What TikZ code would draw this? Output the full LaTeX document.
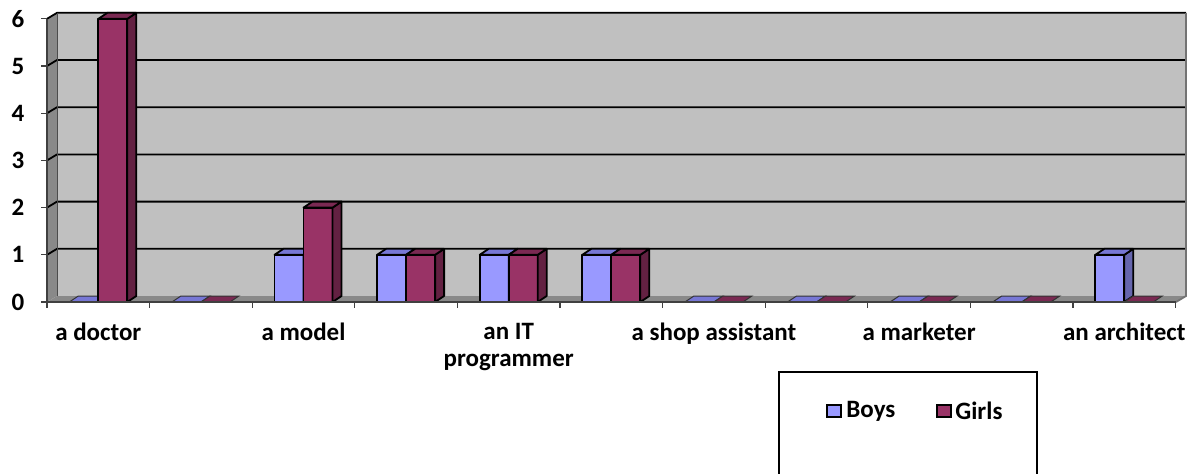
\documentclass[tikz,border=0pt]{standalone}
\usepackage{fontspec}
\setmainfont{Carlito}

\definecolor{boys}{HTML}{9999FF}
\definecolor{boystop}{HTML}{7777D5}
\definecolor{boysside}{HTML}{6666AE}
\definecolor{girls}{HTML}{993366}
\definecolor{girlstop}{HTML}{7A2952}
\definecolor{girlsside}{HTML}{632142}
\definecolor{wall}{HTML}{C0C0C0}
\definecolor{darkwall}{HTML}{898989}

\tikzset{
  lbl/.style={font=\bfseries\fontsize{12.5}{13.5}\selectfont, inner sep=0pt},
  barline/.style={draw=black, line width=0.9pt, line join=round},
  flatline/.style={draw=black!80, line width=0.5pt},
  grid/.style={line width=0.9pt},
}

% #1 left x, #2 value, #3 front, #4 top, #5 side
\newcommand{\chartbar}[5]{%
  \pgfmathsetmacro{\yt}{171+47.2*#2}
  \pgfmathsetmacro{\xr}{#1+29}
  \ifnum#2>0
    \filldraw[fill=#3, barline] (#1,171) rectangle (\xr,\yt);
    \filldraw[fill=#5, barline] (\xr,171) -- ++(9,6) -- (\xr+9,\yt+6) -- (\xr,\yt) -- cycle;
    \filldraw[fill=#4, barline] (#1,\yt) -- (\xr,\yt) -- (\xr+9,\yt+6) -- (#1+9,\yt+6) -- cycle;
  \else
    \filldraw[fill=#4, flatline] (#1,\yt) -- (\xr,\yt) -- (\xr+9,\yt+6) -- (#1+9,\yt+6) -- cycle;
  \fi
}

\begin{document}
\begin{tikzpicture}[x=0.5pt, y=0.5pt]
  \useasboundingbox (0,0) rectangle (1202,473);

  % walls and floor
  \fill[wall] (57,177) rectangle (1186,460);
  \fill[darkwall] (47,171) -- (57,177) -- (57,460) -- (47,454) -- cycle;
  \fill[darkwall] (47,171) -- (1176,171) -- (1186,177) -- (57,177) -- cycle;
  \foreach \v in {1,...,6}
    \draw[grid] (47,171+47.2*\v) -- (57,177+47.2*\v) -- (1186,177+47.2*\v);
  \draw[black!55, line width=0.9pt] (1176,171) -- (1186,177) -- (1186,460);
  \draw[black!70, line width=0.5pt] (57,177) -- (57,460);

  % bars
  \foreach \i/\b/\g in {1/0/6, 2/0/0, 3/1/2, 4/1/1, 5/1/1, 6/1/1,
                        7/0/0, 8/0/0, 9/0/0, 10/0/0, 11/1/0} {
    \pgfmathsetmacro{\cx}{47+102.6*(\i-0.5)}
    \chartbar{\cx-29}{\b}{boys}{boystop}{boysside}
    \chartbar{\cx}{\g}{girls}{girlstop}{girlsside}
  }

  % axes
  \draw[black!75, line width=0.6pt] (47,454) -- (47,171) -- (1176,171);
  \foreach \v in {0,...,6} {
    \draw[black!75, line width=0.6pt] (41,171+47.2*\v) -- (47,171+47.2*\v);
    \node[lbl] (v\v) at (18,171+47.2*\v) {\v};
  }
  \foreach \i in {0,...,11}
    \draw[black!75, line width=0.6pt] (47+102.6*\i,171) -- ++(0,-6);

  % category labels
  \foreach \i/\t in {1/a doctor, 3/a model, 5/{an IT\\programmer},
                     7/a shop assistant, 9/a marketer, 11/an architect}
    \node[lbl, anchor=north, align=center] (cat\i) at (47+102.6*\i-51.3,150) {\t};

  % legend
  \draw[line width=0.7pt] (779,-2) -- (779,101) -- (1037,101) -- (1037,-2);
  \filldraw[fill=boys, draw=black, line width=0.8pt] (827,56) rectangle (841,68);
  \node[lbl, anchor=west] (boys) at (846,62) {Boys};
  \filldraw[fill=girls, draw=black, line width=0.8pt] (937,56) rectangle (951,68);
  \node[lbl, anchor=west] (girls) at (955,62) {Girls};
\end{tikzpicture}
\end{document}
